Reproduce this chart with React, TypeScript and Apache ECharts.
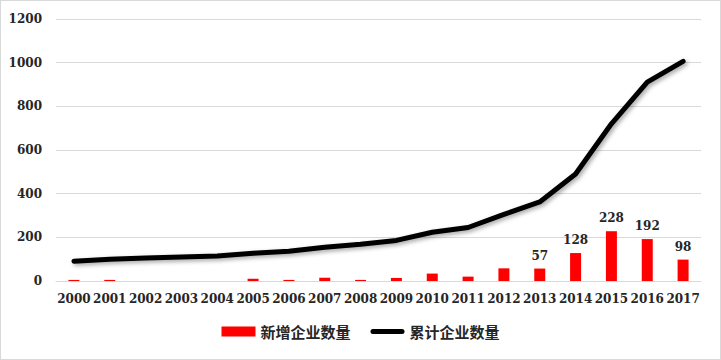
import React, { useEffect, useRef } from "react";
import * as echarts from "echarts";

const years = ["2000","2001","2002","2003","2004","2005","2006","2007","2008","2009","2010","2011","2012","2013","2014","2015","2016","2017"];
const newCompanies = [5, 5, 0, 0, 0, 10, 5, 15, 5, 14, 34, 20, 58, 57, 128, 228, 192, 98];
const totalCompanies = [91, 100, 105, 110, 114, 127, 136, 155, 168, 186, 223, 245, 305, 362, 490, 720, 911, 1006];
const labeledYears = ["2013","2014","2015","2016","2017"];
const yTicks = [0, 200, 400, 600, 800, 1000, 1200];

export default function App() {
  const ref = useRef<HTMLDivElement>(null);
  useEffect(() => {
    const chart = echarts.init(ref.current!, null, { renderer: "svg" });
    const font = "'DejaVu Serif', 'Liberation Serif', serif";
    chart.setOption({
      animation: false,
      backgroundColor: "#ffffff",
      grid: { left: 55, right: 19, top: 18, bottom: 78, containLabel: false },
      legend: {
        bottom: 15,
        left: "center",
        itemGap: 20,
        itemTextGap: 4,
        itemWidth: 34,
        itemHeight: 10,
        textStyle: { fontFamily: "'Noto Sans CJK SC', serif", fontWeight: "bold", fontSize: 15, color: "#262626" },
        data: [
          { name: "新增企业数量", icon: "rect" },
          { name: "累计企业数量", icon: "path://M2.5,0 L31.5,0 A2.5,2.5 0 0 1 31.5,5 L2.5,5 A2.5,2.5 0 0 1 2.5,0 Z" },
        ],
      },
      xAxis: {
        type: "category",
        data: years,
        axisLine: { lineStyle: { color: "#d9d9d9", width: 1 } },
        axisTick: { show: false },
        axisLabel: { fontFamily: font, fontWeight: "bold", fontSize: 12, color: "#262626", margin: 12, interval: 0 },
      },
      yAxis: {
        type: "value",
        min: 0,
        max: 1200,
        interval: 200,
        axisLine: { show: false },
        axisTick: { show: false },
        splitLine: { lineStyle: { color: "#d9d9d9", width: 1 } },
        axisLabel: { fontFamily: font, fontWeight: "bold", fontSize: 12, color: "#262626", margin: 14, formatter: (v: number) => (yTicks.includes(v) ? String(v) : "") },
      },
      series: [
        {
          name: "新增企业数量",
          type: "bar",
          data: newCompanies.map((v, i) => ({
            value: v,
            label: { show: labeledYears.includes(years[i]) },
          })),
          barWidth: 11,
          itemStyle: { color: "#ff0000" },
          label: { position: "top", distance: 7, fontFamily: font, fontWeight: "bold", fontSize: 12, color: "#262626" },
          z: 2,
        },
        {
          name: "累计企业数量",
          type: "line",
          data: totalCompanies,
          symbol: "none",
          lineStyle: { color: "#000000", width: 5, shadowColor: "rgba(0,0,0,0.35)", shadowBlur: 4, shadowOffsetX: 2, shadowOffsetY: 2, cap: "round" },
          itemStyle: { color: "#000000" },
          z: 3,
        },
      ],
    });
    return () => chart.dispose();
  }, []);
  return (
    <div
      ref={ref}
      style={{ position: "absolute", left: 0, top: 0, width: 721, height: 360, boxSizing: "border-box", border: "1px solid #d9d9d9" }}
    />
  );
}
